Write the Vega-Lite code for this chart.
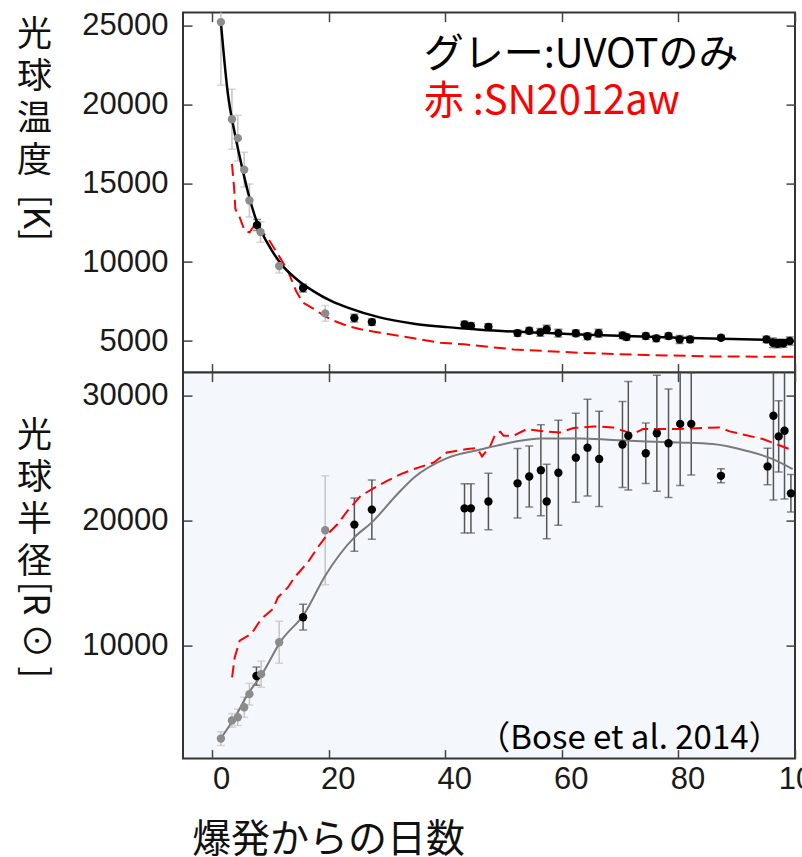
{
  "$schema": "https://vega.github.io/schema/vega-lite/v6.json",
  "background": "white",
  "padding": {"left": 15, "top": 7.6, "right": 0, "bottom": 10},
  "spacing": 0,
  "bounds": "flush",
  "config": {
    "view": {"stroke": "#333333", "strokeWidth": 2},
    "axis": {"grid": false, "domain": false, "tickColor": "#444444", "tickWidth": 1.5, "labelFont": "Liberation Sans", "labelFontSize": 31, "labelColor": "#1a1a1a", "labelFlush": false, "labelOverlap": false, "titleFont": "Noto Sans CJK JP", "titleFontWeight": "normal", "titleColor": "#111111"}
  },
  "datasets": {
    "temp": [
      {"day": 1.5, "T": 25200, "err": 4000, "src": "g"},
      {"day": 3.4, "T": 19050, "err": 1900, "src": "g"},
      {"day": 4.4, "T": 17850, "err": 1450, "src": "g"},
      {"day": 5.5, "T": 15850, "err": 1100, "src": "g"},
      {"day": 6.4, "T": 13900, "err": 1050, "src": "g"},
      {"day": 7.7, "T": 12350, "err": 350, "src": "b"},
      {"day": 8.3, "T": 11900, "err": 650, "src": "g"},
      {"day": 11.5, "T": 9750, "err": 450, "src": "g"},
      {"day": 15.6, "T": 8350, "err": 250, "src": "b"},
      {"day": 19.4, "T": 6750, "err": 500, "src": "g"},
      {"day": 24.4, "T": 6450, "err": 250, "src": "b"},
      {"day": 27.4, "T": 6200, "err": 200, "src": "b"},
      {"day": 43.3, "T": 6050, "err": 200, "src": "b"},
      {"day": 44.4, "T": 5950, "err": 200, "src": "b"},
      {"day": 47.4, "T": 5900, "err": 200, "src": "b"},
      {"day": 52.4, "T": 5500, "err": 200, "src": "b"},
      {"day": 54.4, "T": 5650, "err": 200, "src": "b"},
      {"day": 56.3, "T": 5550, "err": 250, "src": "b"},
      {"day": 57.4, "T": 5750, "err": 250, "src": "b"},
      {"day": 59.4, "T": 5500, "err": 250, "src": "b"},
      {"day": 62.4, "T": 5490, "err": 200, "src": "b"},
      {"day": 64.4, "T": 5300, "err": 200, "src": "b"},
      {"day": 66.3, "T": 5490, "err": 250, "src": "b"},
      {"day": 70.4, "T": 5360, "err": 200, "src": "b"},
      {"day": 71.1, "T": 5250, "err": 200, "src": "b"},
      {"day": 74.4, "T": 5315, "err": 200, "src": "b"},
      {"day": 76.2, "T": 5170, "err": 200, "src": "b"},
      {"day": 78.3, "T": 5315, "err": 200, "src": "b"},
      {"day": 80.2, "T": 5100, "err": 250, "src": "b"},
      {"day": 82.0, "T": 5100, "err": 200, "src": "b"},
      {"day": 87.3, "T": 5210, "err": 150, "src": "b"},
      {"day": 95.1, "T": 5100, "err": 200, "src": "b"},
      {"day": 96.2, "T": 4890, "err": 300, "src": "b"},
      {"day": 97.0, "T": 4830, "err": 250, "src": "b"},
      {"day": 98.0, "T": 4850, "err": 250, "src": "b"},
      {"day": 99.1, "T": 5000, "err": 250, "src": "b"}
    ],
    "rad": [
      {"day": 1.5, "R": 2600, "err": 550, "src": "g"},
      {"day": 3.4, "R": 4050, "err": 550, "src": "g"},
      {"day": 4.4, "R": 4300, "err": 650, "src": "g"},
      {"day": 5.5, "R": 5100, "err": 800, "src": "g"},
      {"day": 6.4, "R": 6150, "err": 870, "src": "g"},
      {"day": 7.6, "R": 7600, "err": 730, "src": "b"},
      {"day": 8.4, "R": 7750, "err": 1050, "src": "g"},
      {"day": 11.5, "R": 10300, "err": 1680, "src": "g"},
      {"day": 15.6, "R": 12300, "err": 1030, "src": "b"},
      {"day": 19.4, "R": 19250, "err": 4350, "src": "g"},
      {"day": 24.4, "R": 19700, "err": 2130, "src": "b"},
      {"day": 27.4, "R": 20900, "err": 2360, "src": "b"},
      {"day": 43.3, "R": 21000, "err": 1970, "src": "b"},
      {"day": 44.4, "R": 21000, "err": 1970, "src": "b"},
      {"day": 47.4, "R": 21550, "err": 2260, "src": "b"},
      {"day": 52.4, "R": 23000, "err": 2780, "src": "b"},
      {"day": 54.4, "R": 23550, "err": 2440, "src": "b"},
      {"day": 56.4, "R": 24050, "err": 3640, "src": "b"},
      {"day": 57.4, "R": 21550, "err": 2970, "src": "b"},
      {"day": 59.4, "R": 23850, "err": 4200, "src": "b"},
      {"day": 62.4, "R": 25050, "err": 3560, "src": "b"},
      {"day": 64.4, "R": 25850, "err": 3870, "src": "b"},
      {"day": 66.4, "R": 24950, "err": 3810, "src": "b"},
      {"day": 70.4, "R": 26100, "err": 3440, "src": "b"},
      {"day": 71.4, "R": 26800, "err": 4340, "src": "b"},
      {"day": 74.4, "R": 25400, "err": 2420, "src": "b"},
      {"day": 76.3, "R": 27000, "err": 4630, "src": "b"},
      {"day": 78.3, "R": 26200, "err": 4330, "src": "b"},
      {"day": 80.3, "R": 27750, "err": 4930, "src": "b"},
      {"day": 82.2, "R": 27750, "err": 4080, "src": "b"},
      {"day": 87.3, "R": 23600, "err": 560, "src": "b"},
      {"day": 95.3, "R": 24350, "err": 1460, "src": "b"},
      {"day": 96.3, "R": 28400, "err": 6740, "src": "b"},
      {"day": 97.2, "R": 26750, "err": 2840, "src": "b"},
      {"day": 98.2, "R": 27200, "err": 5460, "src": "b"},
      {"day": 99.3, "R": 22200, "err": 1500, "src": "b"}
    ],
    "tfit": [
      {"day": 1.5, "T": 25170}, {"day": 2.7, "T": 20660}, {"day": 3.9, "T": 18120}, {"day": 5.0, "T": 16220},
      {"day": 6.15, "T": 14420}, {"day": 7.6, "T": 12620}, {"day": 9.6, "T": 11140}, {"day": 11.85, "T": 9870},
      {"day": 14.7, "T": 8850}, {"day": 17.5, "T": 8130}, {"day": 20.4, "T": 7540}, {"day": 23.25, "T": 7110},
      {"day": 28.9, "T": 6480}, {"day": 34.6, "T": 6100}, {"day": 40.3, "T": 5880}, {"day": 46.0, "T": 5720},
      {"day": 63.1, "T": 5420}, {"day": 80.2, "T": 5210}, {"day": 99.6, "T": 5045}
    ],
    "rfit": [
      {"day": 1.5, "R": 2620}, {"day": 3.9, "R": 4300}, {"day": 6.15, "R": 6170}, {"day": 8.4, "R": 7630},
      {"day": 11.85, "R": 10430}, {"day": 15.8, "R": 12560}, {"day": 19.4, "R": 15620}, {"day": 24.4, "R": 18680},
      {"day": 27.4, "R": 19880}, {"day": 31.8, "R": 22150}, {"day": 34.65, "R": 23470}, {"day": 40.3, "R": 25020},
      {"day": 46.0, "R": 25700}, {"day": 51.7, "R": 26300}, {"day": 56.3, "R": 26590}, {"day": 63.1, "R": 26590},
      {"day": 68.8, "R": 26460}, {"day": 74.5, "R": 26350}, {"day": 80.2, "R": 26270}, {"day": 85.9, "R": 26140},
      {"day": 91.6, "R": 25610}, {"day": 96.2, "R": 24940}, {"day": 99.6, "R": 24140}
    ],
    "tred": [
      {"day": 3.4, "T": 16220}, {"day": 3.76, "T": 14740}, {"day": 3.98, "T": 13360}, {"day": 4.73, "T": 12830},
      {"day": 5.58, "T": 11980}, {"day": 6.43, "T": 11880}, {"day": 7.57, "T": 12510}, {"day": 8.43, "T": 11980},
      {"day": 9.85, "T": 11350}, {"day": 11.28, "T": 10500}, {"day": 12.99, "T": 9440}, {"day": 14.4, "T": 8170},
      {"day": 15.56, "T": 7430}, {"day": 17.54, "T": 7010}, {"day": 19.25, "T": 6590}, {"day": 20.96, "T": 6270},
      {"day": 23.25, "T": 5950}, {"day": 25.5, "T": 5740}, {"day": 27.8, "T": 5590}, {"day": 31.2, "T": 5380},
      {"day": 34.6, "T": 5170}, {"day": 39.2, "T": 4890}, {"day": 43.2, "T": 4790}, {"day": 48.9, "T": 4575},
      {"day": 51.7, "T": 4470}, {"day": 63.1, "T": 4255}, {"day": 74.5, "T": 4110}, {"day": 85.9, "T": 4025},
      {"day": 100, "T": 4000}
    ],
    "rred": [
      {"day": 3.42, "R": 7490}, {"day": 3.87, "R": 9090}, {"day": 4.73, "R": 10430}, {"day": 6.72, "R": 10960},
      {"day": 8.43, "R": 12160}, {"day": 10.43, "R": 12960}, {"day": 11.28, "R": 13880}, {"day": 12.99, "R": 14680},
      {"day": 14.12, "R": 15480}, {"day": 16.4, "R": 16680}, {"day": 18.12, "R": 17880}, {"day": 19.83, "R": 18950},
      {"day": 21.54, "R": 19750}, {"day": 23.25, "R": 20810}, {"day": 25.52, "R": 22010}, {"day": 27.8, "R": 22630},
      {"day": 30.09, "R": 23210}, {"day": 32.36, "R": 23740}, {"day": 34.65, "R": 24140}, {"day": 38.05, "R": 24670},
      {"day": 40.3, "R": 25470}, {"day": 43.76, "R": 25740}, {"day": 45.47, "R": 25820}, {"day": 46.3, "R": 25150},
      {"day": 47.74, "R": 26000}, {"day": 48.6, "R": 26940}, {"day": 49.45, "R": 27120}, {"day": 50.0, "R": 26800},
      {"day": 51.7, "R": 26800}, {"day": 54.0, "R": 27340}, {"day": 56.85, "R": 27150}, {"day": 59.7, "R": 27070},
      {"day": 62.0, "R": 27420}, {"day": 65.4, "R": 27550}, {"day": 68.8, "R": 27470}, {"day": 72.2, "R": 26940},
      {"day": 73.9, "R": 27340}, {"day": 80.2, "R": 27340}, {"day": 87.06, "R": 27470}, {"day": 88.8, "R": 27150},
      {"day": 94.5, "R": 26540}, {"day": 99.8, "R": 25600}
    ]
  },
  "vconcat": [
    {
      "width": 612,
      "height": 360,
      "resolve": {"axis": {"x": "independent", "y": "independent"}, "scale": {"color": "independent"}},
      "layer": [
        {
          "data": {"name": "temp"},
          "mark": {"type": "errorbar", "ticks": {"size": 8}, "thickness": 1.5, "clip": true},
          "encoding": {
            "x": {"field": "day", "type": "quantitative", "scale": {"domain": [-5, 100], "nice": false, "zero": false},
                  "axis": {"orient": "bottom", "values": [0, 20, 40, 60, 80, 100], "labels": false, "tickSize": -9, "title": null}},
            "y": {"field": "T", "type": "quantitative", "scale": {"domain": [3000, 25800], "nice": false, "zero": false},
                  "axis": {"orient": "left", "values": [5000, 10000, 15000, 20000, 25000], "format": "d", "tickSize": -9, "labelPadding": 24,
                           "title": ["光", "球", "温", "度"], "titleAngle": 0, "titleX": -149, "titleY": 4.5, "titleAlign": "center", "titleBaseline": "top", "titleFontSize": 35, "titleLineHeight": 42}},
            "yError": {"field": "err"},
            "color": {"field": "src", "type": "nominal", "scale": {"domain": ["g", "b"], "range": ["#c4c4c4", "#555555"]}, "legend": null}
          }
        },
        {
          "data": {"name": "tred"},
          "mark": {"type": "line", "color": "#ff0000", "strokeWidth": 2, "strokeDash": [12, 6], "clip": true},
          "encoding": {
            "x": {"field": "day", "type": "quantitative", "scale": {"domain": [-5, 100], "nice": false, "zero": false},
                  "axis": {"orient": "top", "values": [0, 20, 40, 60, 80, 100], "labels": false, "tickSize": -9, "title": null}},
            "y": {"field": "T", "type": "quantitative", "scale": {"domain": [3000, 25800], "nice": false, "zero": false},
                  "axis": {"orient": "right", "values": [5000, 10000, 15000, 20000, 25000], "labels": false, "tickSize": -9, "title": null}}
          }
        },
        {
          "data": {"name": "tfit"},
          "mark": {"type": "line", "color": "#000000", "strokeWidth": 2.5, "interpolate": "monotone", "clip": true},
          "encoding": {
            "x": {"field": "day", "type": "quantitative", "scale": {"domain": [-5, 100], "nice": false, "zero": false}, "axis": null},
            "y": {"field": "T", "type": "quantitative", "scale": {"domain": [3000, 25800], "nice": false, "zero": false}, "axis": null}
          }
        },
        {
          "data": {"name": "temp"},
          "mark": {"type": "circle", "size": 70, "opacity": 1},
          "encoding": {
            "x": {"field": "day", "type": "quantitative", "scale": {"domain": [-5, 100], "nice": false, "zero": false}, "axis": null},
            "y": {"field": "T", "type": "quantitative", "scale": {"domain": [3000, 25800], "nice": false, "zero": false}, "axis": null},
            "color": {"field": "src", "type": "nominal", "scale": {"domain": ["g", "b"], "range": ["#8c8c8c", "#000000"]}, "legend": null}
          }
        },
        {
          "data": {"values": [{"label": "グレー:UVOTのみ"}]},
          "mark": {"type": "text", "align": "left", "baseline": "alphabetic", "font": "Noto Sans CJK JP", "fontSize": 40, "color": "#000000"},
          "encoding": {
            "x": {"datum": 36.3, "scale": {"domain": [-5, 100], "nice": false, "zero": false}, "axis": null},
            "y": {"datum": 22350, "scale": {"domain": [3000, 25800], "nice": false, "zero": false}, "axis": null},
            "text": {"field": "label"}
          }
        },
        {
          "data": {"values": [{"label": "赤 :SN2012aw"}]},
          "mark": {"type": "text", "align": "left", "baseline": "alphabetic", "font": "Noto Sans CJK JP", "fontSize": 40, "color": "#ff0000"},
          "encoding": {
            "x": {"datum": 36.3, "scale": {"domain": [-5, 100], "nice": false, "zero": false}, "axis": null},
            "y": {"datum": 19390, "scale": {"domain": [3000, 25800], "nice": false, "zero": false}, "axis": null},
            "text": {"field": "label"}
          }
        },
        {
          "data": {"values": [{"label": "[K]"}]},
          "mark": {"type": "text", "align": "center", "baseline": "middle", "angle": 90, "font": "Noto Sans CJK JP", "fontSize": 35, "color": "#111111"},
          "encoding": {
            "x": {"datum": -30.4, "scale": {"domain": [-5, 100], "nice": false, "zero": false}, "axis": null},
            "y": {"datum": 12800, "scale": {"domain": [3000, 25800], "nice": false, "zero": false}, "axis": null},
            "text": {"field": "label"}
          }
        }
      ]
    },
    {
      "width": 612,
      "height": 386,
      "view": {"fill": "#f4f8fd"},
      "resolve": {"axis": {"x": "independent", "y": "independent"}, "scale": {"color": "independent"}},
      "layer": [
        {
          "data": {"name": "rad"},
          "mark": {"type": "errorbar", "ticks": {"size": 8}, "thickness": 1.5, "clip": true},
          "encoding": {
            "x": {"field": "day", "type": "quantitative", "scale": {"domain": [-5, 100], "nice": false, "zero": false},
                  "axis": {"orient": "bottom", "values": [0, 20, 40, 60, 80, 100], "tickSize": -9, "labelPadding": 15, "labelOffset": 9,
                           "title": "爆発からの日数", "titleFontSize": 39, "titleX": 145, "titleY": 93, "titleAlign": "center", "titleBaseline": "alphabetic", "titleAnchor": null}},
            "y": {"field": "R", "type": "quantitative", "scale": {"domain": [1000, 31850], "nice": false, "zero": false},
                  "axis": {"orient": "left", "values": [10000, 20000, 30000], "format": "d", "tickSize": -9, "labelPadding": 24,
                           "title": ["光", "球", "半", "径"], "titleAngle": 0, "titleX": -149, "titleY": 46, "titleAlign": "center", "titleBaseline": "top", "titleFontSize": 35, "titleLineHeight": 42}},
            "yError": {"field": "err"},
            "color": {"field": "src", "type": "nominal", "scale": {"domain": ["g", "b"], "range": ["#c4c4c4", "#555555"]}, "legend": null}
          }
        },
        {
          "data": {"name": "rred"},
          "mark": {"type": "line", "color": "#ff0000", "strokeWidth": 2, "strokeDash": [12, 6], "clip": true},
          "encoding": {
            "x": {"field": "day", "type": "quantitative", "scale": {"domain": [-5, 100], "nice": false, "zero": false},
                  "axis": {"orient": "top", "values": [0, 20, 40, 60, 80, 100], "labels": false, "tickSize": -9, "title": null}},
            "y": {"field": "R", "type": "quantitative", "scale": {"domain": [1000, 31850], "nice": false, "zero": false},
                  "axis": {"orient": "right", "values": [10000, 20000, 30000], "labels": false, "tickSize": -9, "title": null}}
          }
        },
        {
          "data": {"name": "rfit"},
          "mark": {"type": "line", "color": "#7a7a7a", "strokeWidth": 2, "interpolate": "monotone", "clip": true},
          "encoding": {
            "x": {"field": "day", "type": "quantitative", "scale": {"domain": [-5, 100], "nice": false, "zero": false}, "axis": null},
            "y": {"field": "R", "type": "quantitative", "scale": {"domain": [1000, 31850], "nice": false, "zero": false}, "axis": null}
          }
        },
        {
          "data": {"name": "rad"},
          "mark": {"type": "circle", "size": 70, "opacity": 1},
          "encoding": {
            "x": {"field": "day", "type": "quantitative", "scale": {"domain": [-5, 100], "nice": false, "zero": false}, "axis": null},
            "y": {"field": "R", "type": "quantitative", "scale": {"domain": [1000, 31850], "nice": false, "zero": false}, "axis": null},
            "color": {"field": "src", "type": "nominal", "scale": {"domain": ["g", "b"], "range": ["#8c8c8c", "#000000"]}, "legend": null}
          }
        },
        {
          "data": {"values": [{"label": "（Bose et al. 2014）"}]},
          "mark": {"type": "text", "align": "left", "baseline": "alphabetic", "font": "Noto Sans CJK JP", "fontSize": 33, "color": "#000000"},
          "encoding": {
            "x": {"datum": 45.5, "scale": {"domain": [-5, 100], "nice": false, "zero": false}, "axis": null},
            "y": {"datum": 1770, "scale": {"domain": [1000, 31850], "nice": false, "zero": false}, "axis": null},
            "text": {"field": "label"}
          }
        },
        {
          "data": {"values": [{"label": "[R ⊙ ]"}]},
          "mark": {"type": "text", "align": "center", "baseline": "middle", "angle": 90, "font": "Noto Sans CJK JP", "fontSize": 35, "color": "#111111"},
          "encoding": {
            "x": {"datum": -30.4, "scale": {"domain": [-5, 100], "nice": false, "zero": false}, "axis": null},
            "y": {"datum": 11300, "scale": {"domain": [1000, 31850], "nice": false, "zero": false}, "axis": null},
            "text": {"field": "label"}
          }
        }
      ]
    }
  ]
}
